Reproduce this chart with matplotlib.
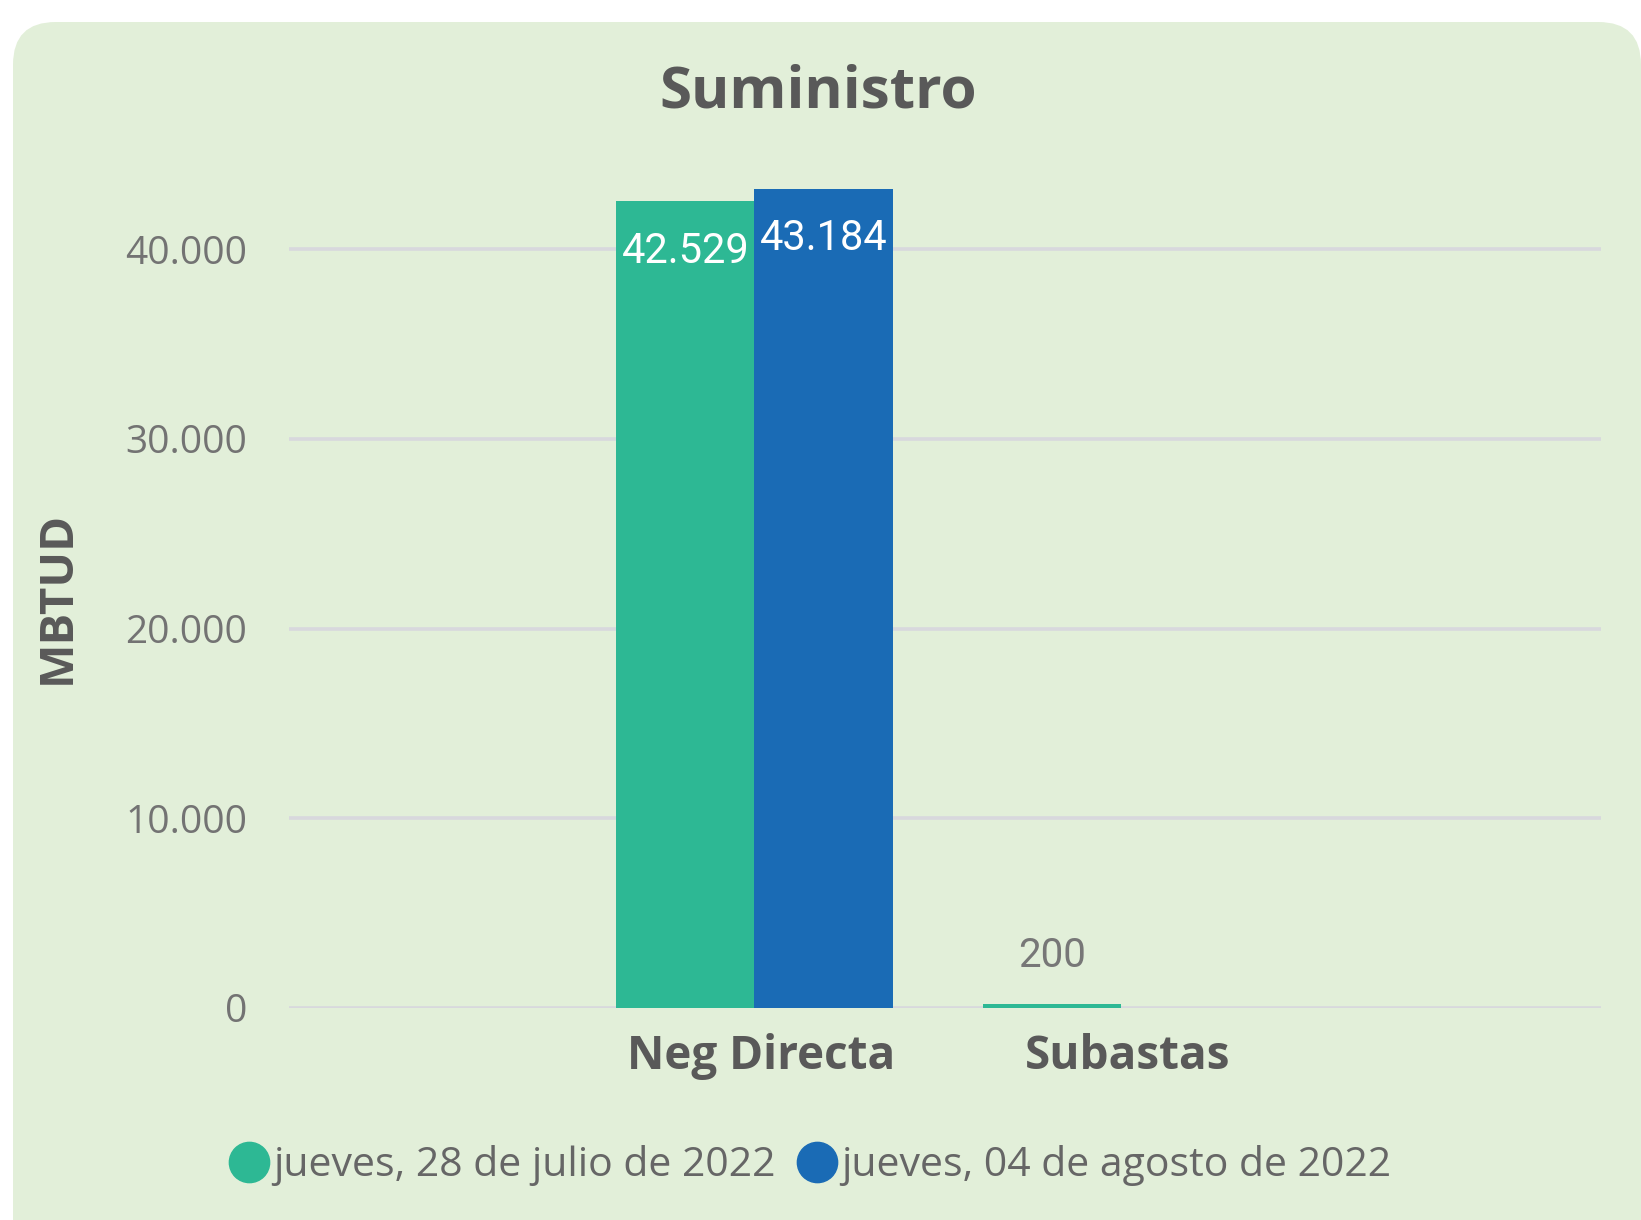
import matplotlib.pyplot as plt
import matplotlib.transforms as mtransforms
import numpy as np
from matplotlib.patches import FancyBboxPatch
from matplotlib.lines import Line2D

plt.rcParams['font.family'] = ['Open Sans', 'DejaVu Sans']

categories = ['Neg Directa', 'Subastas']
series_names = ['jueves, 28 de julio de 2022', 'jueves, 04 de agosto de 2022']
jul_28 = [42529, 200]
ago_04 = [43184, 0]
yticks = [0, 10000, 20000, 30000, 40000]
ytick_labels = ['0', '10.000', '20.000', '30.000', '40.000']

colors = ['#2DB894', '#1A6BB5']
bg = '#E2EFD9'
W, H = 1641, 1220

fig = plt.figure(figsize=(W / 100, H / 100), dpi=100, facecolor='white')

# rounded green card behind everything
card = FancyBboxPatch((13 / W, -0.1), 1 - 13 / W, 1 - 22 / H + 0.1,
                      boxstyle='round,pad=0,rounding_size=0.026',
                      mutation_aspect=W / H,
                      transform=fig.transFigure, facecolor=bg,
                      edgecolor='none', zorder=-10)
fig.patches.append(card)

ax = fig.add_axes([289 / W, 1 - 1008 / H, 1312 / W, 4.5 * 189.75 / H])
ax.patch.set_alpha(0)
ax.set_zorder(1)

x = np.arange(len(categories))
width = 0.377
for i, (vals, name) in enumerate(zip([jul_28, ago_04], series_names)):
    pos = x + (i - 0.5) * width
    bars = ax.bar(pos, vals, width, color=colors[i], label=name, zorder=3)
    for xp, v in zip(pos, vals):
        if v == 0:
            continue
        txt = f'{v:,}'.replace(',', '.')
        if v > 5000:
            ax.annotate(txt, (xp, v), xytext=(0, -36), textcoords='offset points',
                        ha='center', va='center', color='white', fontsize=30,
                        family='Roboto', zorder=4)
        else:
            ax.annotate(txt, (xp, v), xytext=(0, 35), textcoords='offset points',
                        ha='center', va='center', color='#777777', fontsize=29,
                        family='Roboto', zorder=4)

ax.set_xlim(-1.27, 2.31)
ax.set_ylim(0, 45000)
ax.set_yticks(yticks)
ax.set_yticklabels(ytick_labels)
ax.set_xticks(x)
ax.set_xticklabels(categories, fontsize=33, fontweight='bold', color='#595959')
ax.tick_params(axis='y', length=0, pad=30, labelsize=28, labelcolor='#737373')
ax.tick_params(axis='x', length=0, pad=18)
shift = mtransforms.ScaledTranslation(7 / 100, 0, fig.dpi_scale_trans)
for lbl in ax.get_xticklabels():
    lbl.set_transform(lbl.get_transform() + shift)
ax.yaxis.grid(True, color='#D8D8DD', linewidth=2.6, zorder=0)
ax.set_axisbelow(True)
for s in ax.spines.values():
    s.set_visible(False)

fig.text(818 / W, 1 - 92 / H, 'Suministro', ha='center', va='center',
         fontsize=42, fontweight='bold', color='#595959')
fig.text(57 / W, 1 - 597 / H, 'MBTUD', ha='center', va='center', rotation=90,
         fontsize=34, fontweight='bold', color='#595959')

handles = [Line2D([], [], linestyle='none', marker='o', markersize=29,
                  markerfacecolor=c, markeredgecolor=c) for c in colors]
fig.legend(handles, series_names, loc='center', bbox_to_anchor=(810 / W, 1 - 1166 / H),
           ncol=2, frameon=False, fontsize=29.5, labelcolor='#666666',
           handlelength=1.0, handletextpad=0.1, columnspacing=0.5)

fig.savefig('out.png', dpi=100, facecolor='white')
